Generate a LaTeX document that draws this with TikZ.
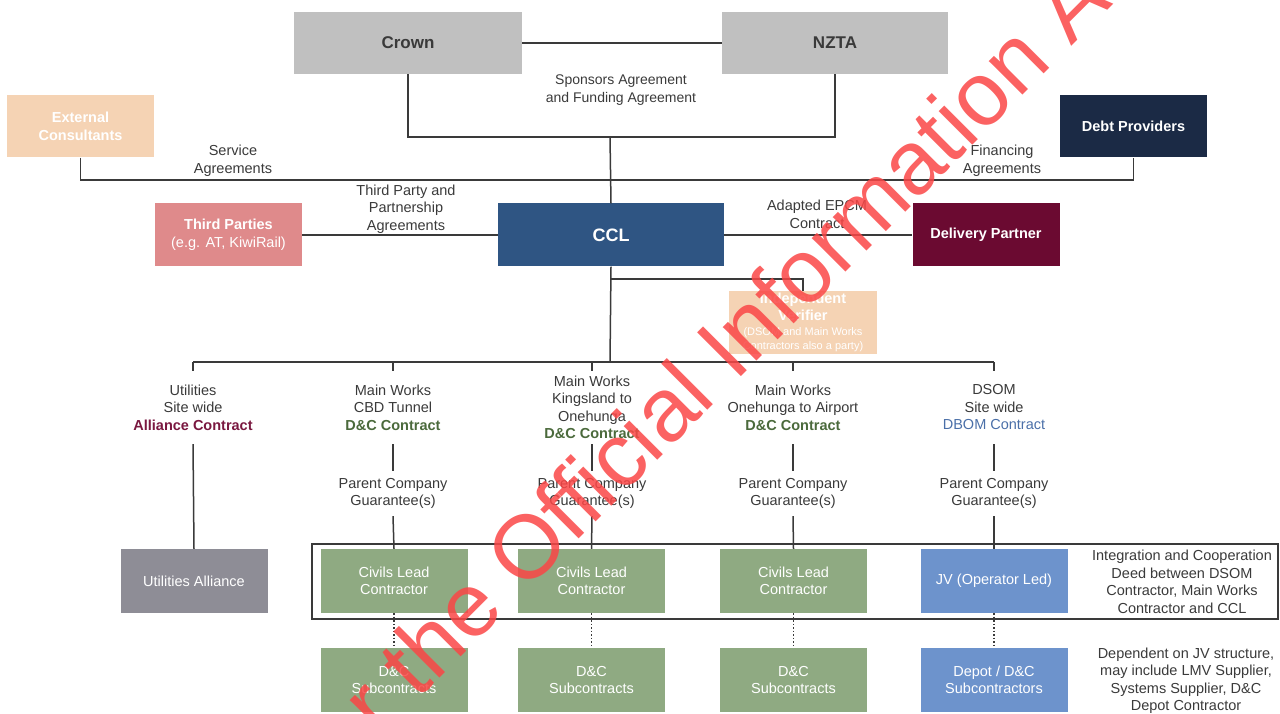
\documentclass[tikz,border=0pt]{standalone}
\usepackage{fontspec}
\setmainfont{Liberation Sans}
\definecolor{txt}{HTML}{3A3A3A}
\definecolor{lgray}{HTML}{C0C0C0}
\definecolor{peach}{HTML}{F5D3B4}
\definecolor{navy}{HTML}{1B2A45}
\definecolor{pinkbox}{HTML}{DF8A8B}
\definecolor{cclblue}{HTML}{2F5583}
\definecolor{maroonbox}{HTML}{6B0A31}
\definecolor{ugray}{HTML}{8E8D96}
\definecolor{sage}{HTML}{8FAA82}
\definecolor{jvblue}{HTML}{6D93CC}
\definecolor{alltxt}{HTML}{7A1840}
\definecolor{dctxt}{HTML}{4B6A3C}
\definecolor{dbomtxt}{HTML}{4A6FA8}
\definecolor{wm}{HTML}{FA4646}
\tikzset{
  x=1pt, y=-1pt,
  box/.style={rectangle, inner sep=0pt, align=center, text=white, minimum width=147, minimum height=63,
    font=\fontsize{14.5}{17.5}\selectfont},
  bbox/.style={box, font=\fontsize{14.5}{17.5}\selectfont\bfseries},
  lbl/.style={inner sep=0pt, align=center, text=txt, font=\fontsize{14.5}{17.5}\selectfont},
  collbl/.style={lbl, minimum height=73},
  pcg/.style={lbl, minimum height=45},
  conn/.style={draw=txt, line width=1.5},
  dots/.style={draw=txt, line width=1.5, dotted},
}
\begin{document}
\begin{tikzpicture}
\useasboundingbox (0,0) rectangle (1280,714);
% top
\node[box, fill=lgray, text=txt, minimum width=228, minimum height=62, font=\fontsize{17}{20}\selectfont\bfseries] (crown) at (408,43) {Crown};
\node[box, fill=lgray, text=txt, minimum width=226, minimum height=62, font=\fontsize{17}{20}\selectfont\bfseries] (nzta) at (835,43) {NZTA};
\node[bbox, fill=peach, minimum height=62] (ext) at (80.5,126.5) {External\\Consultants};
\node[bbox, fill=navy, minimum height=62] (debt) at (1133.5,126.5) {Debt Providers};
\node[box, fill=pinkbox] (third) at (228.5,235) {\textbf{Third Parties}\\(e.g. AT, KiwiRail)};
\node[box, fill=cclblue, minimum width=226, font=\fontsize{18}{20}\selectfont\bfseries] (ccl) at (611,235) {CCL};
\node[bbox, fill=maroonbox] (deliv) at (986,235) {Delivery Partner};
\node[box, fill=peach, minimum width=148] (iv) at (803,322.5) {\textbf{Independent}\\\textbf{Verifier}\\[-3pt]\fontsize{11}{13}\selectfont (DSOM and Main Works\\[-3pt]\fontsize{11}{13}\selectfont Contractors also a party)};

\coordinate (spb) at (610,137);
\coordinate (svc) at (610,180);
\coordinate (ivj) at (610,279);
\coordinate (busU) at (193,362);
\coordinate (busC) at (393,362);
\coordinate (busK) at (592,362);
\coordinate (busA) at (793,362);
\coordinate (busD) at (994,362);
\coordinate (busM) at (610,362);

\draw[conn] (crown) -- (nzta);
\draw[conn] (crown.south) |- (spb) -| (nzta.south);
\draw[conn] (spb) -- (ccl.north);
\draw[conn] (ext.south) |- (svc) -| (debt.south);
\draw[conn] (third) -- (ccl);
\draw[conn] (ccl) -- (deliv);
\draw[conn] (ccl.south) -- (busM);
\draw[conn] (ivj) -| (iv.north);
\draw[conn] (busU) -- (busD);

\node[lbl, font=\fontsize{14}{17.5}\selectfont] (spl) at (621,90) {Sponsors Agreement\\and Funding Agreement};
\node[lbl] (svl) at (233,161) {Service\\Agreements};
\node[lbl] (fil) at (1002,161) {Financing\\Agreements};
\node[lbl] (tpl) at (406,209) {Third Party and\\Partnership\\Agreements};
\node[lbl] (epl) at (817,214.5) {Adapted EPCM\\Contract};

% columns
\node[collbl] (lU) at (193,407.5) {Utilities\\Site wide\\\textcolor{alltxt}{\textbf{Alliance Contract}}};
\node[collbl] (lC) at (393,407.5) {Main Works\\CBD Tunnel\\\textcolor{dctxt}{\textbf{D\&C Contract}}};
\node[collbl] (lK) at (592,407.5) {Main Works\\Kingsland to\\Onehunga\\\textcolor{dctxt}{\textbf{D\&C Contract}}};
\node[collbl] (lA) at (793,407.5) {Main Works\\Onehunga to Airport\\\textcolor{dctxt}{\textbf{D\&C Contract}}};
\node[collbl] (lD) at (994,407.5) {DSOM\\Site wide\\\textcolor{dbomtxt}{DBOM Contract}};

\foreach \b/\l in {busU/lU, busC/lC, busK/lK, busA/lA, busD/lD}
  \draw[conn] (\b) -- (\l.north);

\node[pcg] (gC) at (393,493.5) {Parent Company\\Guarantee(s)};
\node[pcg] (gK) at (592,493.5) {Parent Company\\Guarantee(s)};
\node[pcg] (gA) at (793,493.5) {Parent Company\\Guarantee(s)};
\node[pcg] (gD) at (994,493.5) {Parent Company\\Guarantee(s)};

\node[draw=txt, line width=1.5, minimum width=966, minimum height=75, inner sep=0] (icd) at (795,581.5) {};

\node[box, fill=ugray, minimum height=64] (ua) at (194,581) {Utilities Alliance};
\node[box, fill=sage, minimum height=64] (cv1) at (394,581) {Civils Lead\\Contractor};
\node[box, fill=sage, minimum height=64] (cv2) at (591.5,581) {Civils Lead\\Contractor};
\node[box, fill=sage, minimum height=64] (cv3) at (793.5,581) {Civils Lead\\Contractor};
\node[box, fill=jvblue, minimum height=64] (jv) at (994,581) {JV (Operator Led)};

\node[box, fill=sage, minimum height=64] (sb1) at (394,680) {D\&C\\Subcontracts};
\node[box, fill=sage, minimum height=64] (sb2) at (591.5,680) {D\&C\\Subcontracts};
\node[box, fill=sage, minimum height=64] (sb3) at (793.5,680) {D\&C\\Subcontracts};
\node[box, fill=jvblue, minimum height=64] (dep) at (994,680) {Depot / D\&C\\Subcontractors};

\draw[conn] (lU.south) -- (ua.north);
\foreach \l/\g/\c in {lC/gC/cv1, lK/gK/cv2, lA/gA/cv3, lD/gD/jv}{
  \draw[conn] (\l.south) -- (\g.north);
  \draw[conn] (\g.south) -- (\c.north);
}
\draw[dots] (cv1.south) -- (sb1.north);
\draw[dots] (cv2.south) -- (sb2.north);
\draw[dots] (cv3.south) -- (sb3.north);
\draw[dots] (jv.south) -- (dep.north);

\node[lbl] (n1) at (1182,582) {Integration and Cooperation\\Deed between DSOM\\Contractor, Main Works\\Contractor and CCL};
\node[lbl] (n2) at (1186,680.5) {Dependent on JV structure,\\may include LMV Supplier,\\Systems Supplier, D\&C\\Depot Contractor};

% watermark
\begin{scope}
\clip (0,0) rectangle (1280,714);
\node[rotate=45, anchor=base west, text=wm, opacity=0.85, inner sep=0pt, font=\fontsize{90}{90}\selectfont] (wmark) at (418,700) {\llap{Released under }the Official Information Act 1982};
\end{scope}
\end{tikzpicture}
\end{document}
